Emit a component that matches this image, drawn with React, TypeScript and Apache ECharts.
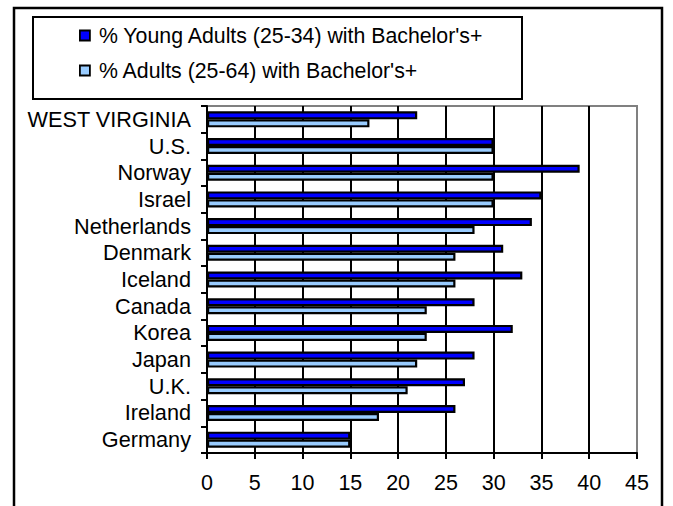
import React, { useEffect, useRef } from "react";
import * as echarts from "echarts";

const categories = [
  "WEST VIRGINIA",
  "U.S.",
  "Norway",
  "Israel",
  "Netherlands",
  "Denmark",
  "Iceland",
  "Canada",
  "Korea",
  "Japan",
  "U.K.",
  "Ireland",
  "Germany",
];
const youngAdults = [22, 30, 39, 35, 34, 31, 33, 28, 32, 28, 27, 26, 15];
const allAdults = [17, 30, 30, 30, 28, 26, 26, 23, 23, 22, 21, 18, 15];
const seriesNames = [
  "% Young Adults (25-34) with Bachelor's+",
  "% Adults (25-64) with Bachelor's+",
];
const xMin = 0;
const xMax = 45;
const xStep = 5;

const FONT = "'Liberation Sans', Arial, sans-serif";

export default function App() {
  const ref = useRef<HTMLDivElement>(null);
  useEffect(() => {
    document.body.style.margin = "0";
    const chart = echarts.init(ref.current!, null, { renderer: "svg" });
    chart.setOption({
      animation: false,
      backgroundColor: "#ffffff",
      textStyle: { fontFamily: FONT, color: "#000" },
      graphic: [
        {
          type: "rect",
          z: -1,
          shape: { x: 14, y: 8, width: 648, height: 530 },
          style: { fill: "none", stroke: "#000", lineWidth: 2.5 },
        },
        {
          type: "rect",
          z: -1,
          shape: { x: 33, y: 17, width: 489, height: 82 },
          style: { fill: "#fff", stroke: "#000", lineWidth: 2 },
        },
      ],
      legend: {
        orient: "vertical",
        left: 79,
        top: 25,
        padding: 0,
        itemWidth: 10,
        itemHeight: 10,
        itemGap: 14,
        icon: "rect",
        textStyle: {
          fontFamily: FONT,
          fontSize: 21.3,
          color: "#000",
          padding: [0, 0, 0, 4],
        },
        itemStyle: { borderColor: "#000", borderWidth: 1.8 },
        data: seriesNames,
      },
      grid: {
        left: 207,
        right: 36,
        top: 106,
        bottom: 53,
        show: true,
        borderColor: "#808080",
        borderWidth: 2,
        backgroundColor: "transparent",
      },
      xAxis: {
        type: "value",
        min: xMin,
        max: xMax,
        interval: xStep,
        axisLine: { show: true, lineStyle: { color: "#000", width: 2 } },
        axisTick: { show: true, length: 6, lineStyle: { color: "#000", width: 2 } },
        axisLabel: { fontSize: 21.5, color: "#000", fontFamily: FONT, margin: 19 },
        splitLine: {
          show: true,
          showMaxLine: false,
          lineStyle: { color: "#000", width: 2 },
        },
      },
      yAxis: {
        type: "category",
        inverse: true,
        data: categories,
        axisLine: { show: true, lineStyle: { color: "#000", width: 2 } },
        axisTick: { show: true, length: 6, interval: 0, lineStyle: { color: "#000", width: 2 } },
        axisLabel: {
          interval: 0,
          hideOverlap: false,
          fontSize: 21.7,
          color: "#000",
          fontFamily: FONT,
          margin: 16,
        },
        splitLine: { show: false },
      },
      series: [
        {
          name: seriesNames[0],
          type: "bar",
          data: youngAdults,
          barWidth: 8,
          barGap: "0%",
          itemStyle: { color: "#0000FF", borderColor: "#000", borderWidth: 2.2 },
        },
        {
          name: seriesNames[1],
          type: "bar",
          data: allAdults,
          barWidth: 8,
          barGap: "0%",
          itemStyle: { color: "#99CCFF", borderColor: "#000", borderWidth: 2.2 },
        },
      ],
    });
    return () => chart.dispose();
  }, []);
  return <div ref={ref} style={{ width: 673, height: 506 }} />;
}
